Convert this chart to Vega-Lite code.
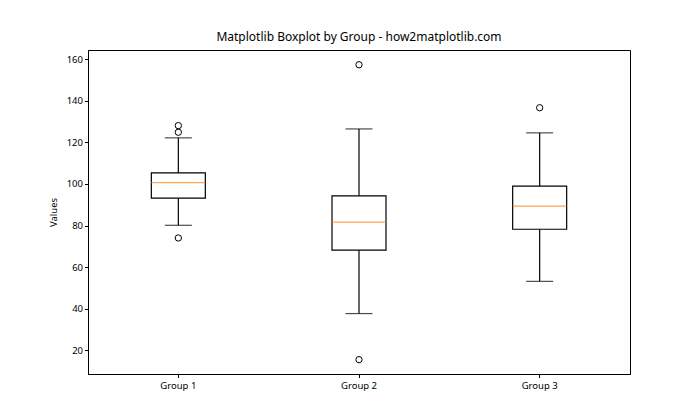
{
  "$schema": "https://vega.github.io/schema/vega-lite/v6.json",
  "width": 542,
  "height": 324,
  "autosize": {"type": "none"},
  "padding": {"left": 88, "top": 50, "right": 70, "bottom": 46},
  "background": "white",
  "title": {"text": "Matplotlib Boxplot by Group - how2matplotlib.com", "font": "Noto Sans", "fontSize": 12, "fontWeight": "normal", "color": "black", "offset": 6},
  "config": {
    "view": {"stroke": "black", "strokeWidth": 1},
    "axis": {"labelFont": "Noto Sans", "titleFont": "Noto Sans", "labelFontSize": 9.5, "titleFontSize": 9.5, "titleFontWeight": "normal", "labelColor": "black", "titleColor": "black", "domainColor": "black", "tickColor": "black", "tickSize": 3.5, "grid": false, "labelPadding": 2}
  },
  "datasets": {
    "stats": [
      {"group": "Group 1", "lo": 80.1, "q1": 93.2, "med": 100.6, "q3": 105.3, "hi": 122.2},
      {"group": "Group 2", "lo": 37.6, "q1": 68.1, "med": 81.6, "q3": 94.3, "hi": 126.5},
      {"group": "Group 3", "lo": 53.1, "q1": 78.2, "med": 89.3, "q3": 99.0, "hi": 124.6}
    ],
    "outliers": [
      {"group": "Group 1", "value": 128.1},
      {"group": "Group 1", "value": 124.9},
      {"group": "Group 1", "value": 74.0},
      {"group": "Group 2", "value": 157.4},
      {"group": "Group 2", "value": 15.4},
      {"group": "Group 3", "value": 136.7}
    ]
  },
  "data": {"name": "stats"},
  "encoding": {
    "x": {"field": "group", "type": "nominal", "title": null, "sort": ["Group 1", "Group 2", "Group 3"],
      "scale": {"paddingInner": 0, "paddingOuter": 0},
      "axis": {"labelAngle": 0, "labelPadding": 3}}
  },
  "layer": [
    {
      "mark": {"type": "rule", "color": "black", "strokeWidth": 1.2},
      "encoding": {
        "y": {"field": "q3", "type": "quantitative", "title": "Values", "scale": {"domain": [8.5, 164.5], "nice": false, "zero": false},
          "axis": {"values": [20, 40, 60, 80, 100, 120, 140, 160], "titlePadding": 8}},
        "y2": {"field": "hi"}
      }
    },
    {
      "mark": {"type": "rule", "color": "black", "strokeWidth": 1.2},
      "encoding": {
        "y": {"field": "lo", "type": "quantitative"},
        "y2": {"field": "q1"}
      }
    },
    {
      "mark": {"type": "bar", "size": 54, "fill": "white", "fillOpacity": 0, "stroke": "black", "strokeWidth": 1.2},
      "encoding": {
        "y": {"field": "q1", "type": "quantitative"},
        "y2": {"field": "q3"}
      }
    },
    {
      "mark": {"type": "tick", "color": "#ff7f0e", "size": 54, "thickness": 1.2},
      "encoding": {"y": {"field": "med", "type": "quantitative"}}
    },
    {
      "mark": {"type": "tick", "color": "black", "size": 27, "thickness": 1.2},
      "encoding": {"y": {"field": "hi", "type": "quantitative"}}
    },
    {
      "mark": {"type": "tick", "color": "black", "size": 27, "thickness": 1.2},
      "encoding": {"y": {"field": "lo", "type": "quantitative"}}
    },
    {
      "data": {"name": "outliers"},
      "mark": {"type": "point", "shape": "circle", "filled": false, "stroke": "black", "strokeWidth": 1, "size": 40, "opacity": 1},
      "encoding": {"y": {"field": "value", "type": "quantitative"}}
    }
  ]
}
